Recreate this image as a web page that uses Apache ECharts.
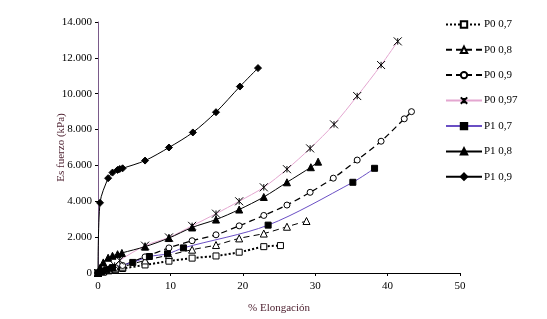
<!doctype html>
<html>
<head>
<meta charset="UTF-8">
<title>Esfuerzo vs Elongación</title>
<script src="https://cdn.jsdelivr.net/npm/echarts@6/dist/echarts.min.js"></script>
<style>
	html, body { margin: 0; padding: 0; background: #fff; }
	#chart { width: 547px; height: 319px; }
</style>
</head>
<body>
<div id="chart"></div>
<script>
// datos: [% elongacion, esfuerzo kPa]
var seriesNames = ['P0 0,7', 'P0 0,8', 'P0 0,9', 'P0 0,97', 'P1 0,7', 'P1 0,8', 'P1 0,9'];
var p0_07 = [[0,0],[0.7,60],[1.5,120],[2.4,180],[3.4,250],[6.5,450],[9.8,660],[13.0,830],[16.3,950],[19.5,1160],[22.9,1470],[25.2,1530]];
var p0_08 = [[0,0],[0.7,80],[1.5,170],[2.4,260],[3.4,350],[6.5,700],[9.8,1000],[13.0,1300],[16.3,1560],[19.5,1930],[22.9,2200],[26.1,2580],[28.8,2900]];
var p0_09 = [[0,0],[0.7,100],[1.5,200],[2.4,300],[3.4,420],[6.5,900],[9.8,1400],[13.0,1800],[16.3,2130],[19.5,2630],[22.9,3210],[26.1,3790],[29.3,4500],[32.5,5290],[35.8,6300],[39.1,7350],[42.3,8600],[43.3,9000]];
var p0_097 = [[0,0],[0.7,120],[1.5,250],[2.3,420],[3.0,700],[6.5,1525],[9.8,1985],[13.0,2630],[16.3,3310],[19.5,4000],[22.9,4780],[26.1,5790],[29.3,6950],[32.6,8290],[35.8,9870],[39.1,11600],[41.4,12920]];
var p1_07 = [[0,0],[0.5,80],[1.2,180],[2.0,300],[4.8,590],[7.1,920],[9.6,1070],[11.8,1400],[23.5,2670],[35.2,5060],[38.2,5840]];
var p1_08 = [[0,0],[0.3,300],[0.73,590],[1.4,850],[2.0,960],[2.7,1050],[3.3,1120],[6.5,1470],[9.8,1950],[13.0,2540],[16.3,2980],[19.5,3540],[22.9,4240],[26.1,5060],[29.4,5900],[30.4,6210]];
var p1_09 = [[0,0],[0.28,3914],[1.4,5290],[2.0,5600],[2.7,5750],[3.0,5800],[3.4,5840],[6.5,6270],[9.8,7000],[13.1,7840],[16.3,8970],[19.6,10400],[22.1,11430]];

var xTicks = { min: 0, max: 50, interval: 10 };
var yTicks = { min: 0, max: 14000, interval: 2000 };

var fontFam = '"Liberation Serif", "DejaVu Serif", serif';
var xMark = 'path://M0,0L10,10M10,0L0,10M5,1L5,9';

function fmtMiles(v) {
	return String(v).replace(/\B(?=(\d{3})+(?!\d))/g, '.');
}

function mk(name, data, opt) {
	return {
		name: name,
		type: 'line',
		data: data,
		smooth: 0.3,
		symbol: opt.symbol,
		symbolSize: opt.size || 6,
		showAllSymbol: true,
		lineStyle: { color: opt.line || '#000', width: opt.width || 1, type: opt.dash || 'solid' },
		itemStyle: { color: opt.fill || '#000', borderColor: '#000', borderWidth: 1 },
		emphasis: { disabled: true },
		z: opt.z || 2
	};
}

var chart = echarts.init(document.getElementById('chart'), null, { renderer: 'canvas' });

chart.setOption({
	backgroundColor: '#fff',
	animation: false,
	textStyle: { fontFamily: fontFam },
	grid: { left: 98, right: 87, top: 22, bottom: 43, containLabel: false },
	legend: {
		orient: 'vertical',
		left: 440,
		top: 14,
		itemWidth: 36,
		itemHeight: 8,
		itemGap: 14.3,
		textStyle: { fontFamily: fontFam, fontSize: 11, color: '#000', padding: [0, 0, 0, -3] },
		data: seriesNames
	},
	xAxis: {
		type: 'value',
		min: xTicks.min, max: xTicks.max, interval: xTicks.interval,
		name: '% Elongación',
		nameLocation: 'middle',
		nameGap: 30,
		nameMoveOverlap: false,
		nameTextStyle: { fontFamily: fontFam, fontSize: 11, color: '#4a1c2c' },
		axisLine: { show: true, lineStyle: { color: '#000', width: 1 } },
		axisTick: { show: true, inside: false, length: 3, lineStyle: { color: '#000' } },
		axisLabel: { fontFamily: fontFam, fontSize: 11, color: '#000', margin: 8 },
		splitLine: { show: false }
	},
	yAxis: {
		type: 'value',
		min: yTicks.min, max: yTicks.max, interval: yTicks.interval,
		name: 'Es fuerzo (kPa)',
		nameLocation: 'middle',
		nameRotate: 90,
		nameGap: 31,
		nameMoveOverlap: false,
		nameTextStyle: { fontFamily: fontFam, fontSize: 11, color: '#4a1c2c' },
		axisLine: { show: true, lineStyle: { color: '#7a5a8a', width: 1 } },
		axisTick: { show: true, inside: false, length: 3, lineStyle: { color: '#000' } },
		axisLabel: { fontFamily: fontFam, fontSize: 11, color: '#000', margin: 6, formatter: fmtMiles },
		splitLine: { show: false }
	},
	series: [
		mk('P0 0,7', p0_07, { symbol: 'rect', size: 6, fill: '#fff', dash: [2, 2], width: 2 }),
		mk('P0 0,8', p0_08, { symbol: 'triangle', size: 7, fill: '#fff', dash: [6, 4] }),
		mk('P0 0,9', p0_09, { symbol: 'circle', size: 6, fill: '#fff', dash: [6, 4], width: 1.3 }),
		mk('P0 0,97', p0_097, { symbol: xMark, size: 8, fill: 'none', line: '#e4a6d0' }),
		mk('P1 0,7', p1_07, { symbol: 'rect', size: 6, line: '#6a4fc4' }),
		mk('P1 0,8', p1_08, { symbol: 'triangle', size: 7 }),
		mk('P1 0,9', p1_09, { symbol: 'diamond', size: 7 })
	]
});
</script>
</body>
</html>
